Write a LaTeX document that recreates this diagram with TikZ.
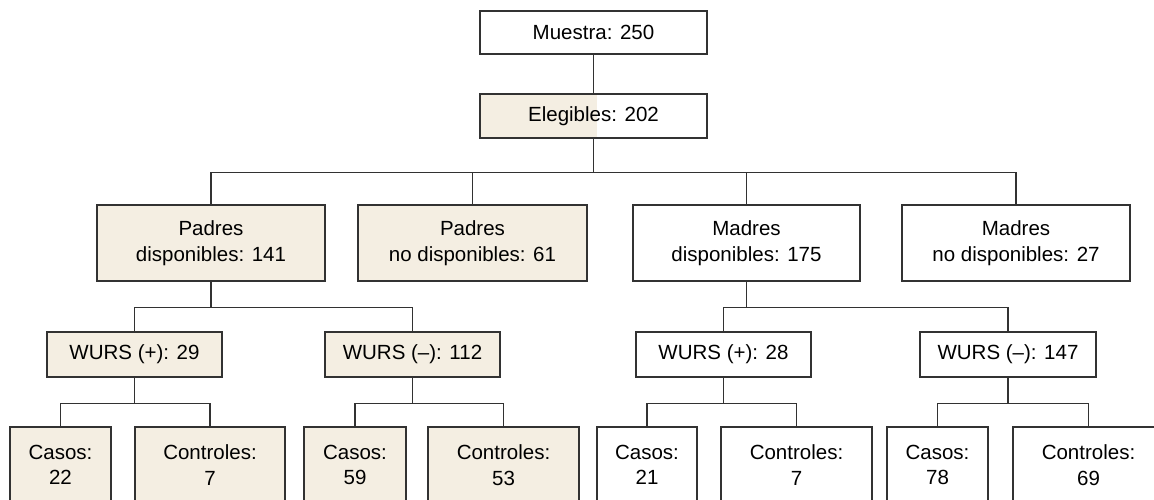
\documentclass[tikz,border=0pt]{standalone}
\usepackage{fontspec}
\setmainfont{Liberation Sans}
\definecolor{beige}{RGB}{244,238,226}
\definecolor{linec}{RGB}{50,50,50}
\begin{document}
\begin{tikzpicture}[x=1pt,y=-1pt,
  bx/.style={draw=linec,line width=1.3pt,rectangle,inner sep=0pt,align=center,
    font=\fontsize{20.5pt}{25.5pt}\selectfont,text=black},
  bf/.style={bx,fill=beige},
  conn/.style={draw=linec,line width=1.3pt}]
\clip (0,0) rectangle (1154,500);
\fill[white] (0,0) rectangle (1154,500);
% level 1
\node[bx,minimum width=227pt,minimum height=43pt] (mu) at (593.5,32.5) {Muestra: 250};
% level 2 (half filled)
\fill[beige] (480,94) rectangle (597,138);
\node[bx,minimum width=227pt,minimum height=44pt] (el) at (593.5,116) {Elegibles: 202};
% level 3
\node[bf,minimum width=228pt,minimum height=76pt] (pd) at (211,243) {Padres\\disponibles: 141};
\node[bf,minimum width=229pt,minimum height=76pt] (pn) at (472.5,243) {Padres\\no disponibles: 61};
\node[bx,minimum width=227pt,minimum height=76pt] (md) at (746.5,243) {Madres\\disponibles: 175};
\node[bx,minimum width=228pt,minimum height=76pt] (mn) at (1016,243) {Madres\\no disponibles: 27};
% level 4
\node[bf,minimum width=175pt,minimum height=45pt] (wp1) at (134.5,354.5) {WURS (+): 29};
\node[bf,minimum width=175pt,minimum height=45pt] (wm1) at (412.5,354.5) {WURS (--): 112};
\node[bx,minimum width=175pt,minimum height=45pt] (wp2) at (723.5,354.5) {WURS (+): 28};
\node[bx,minimum width=176pt,minimum height=45pt] (wm2) at (1008,354.5) {WURS (--): 147};
% level 5
\node[bf,minimum width=101pt,minimum height=76pt] (c1) at (60.5,465) {Casos:\\22};
\node[bf,minimum width=150pt,minimum height=76pt] (k1) at (210,465) {Controles:\\7};
\node[bf,minimum width=102pt,minimum height=76pt] (c2) at (355,465) {Casos:\\59};
\node[bf,minimum width=151pt,minimum height=76pt] (k2) at (503.5,465) {Controles:\\53};
\node[bx,minimum width=100pt,minimum height=76pt] (c3) at (647,465) {Casos:\\21};
\node[bx,minimum width=151pt,minimum height=76pt] (k3) at (796.5,465) {Controles:\\7};
\node[bx,minimum width=101pt,minimum height=76pt] (c4) at (937.5,465) {Casos:\\78};
\node[bx,minimum width=151pt,minimum height=76pt] (k4) at (1088.5,465) {Controles:\\69};
% connectors
\draw[conn] (mu.south) -- (el.north);
\foreach \c in {pd,pn,md,mn} \draw[conn] (el.south) -- ++(0,34) -| (\c.north);
\foreach \c in {wp1,wm1} \draw[conn] (pd.south) -- ++(0,26) -| (\c.north);
\foreach \c in {wp2,wm2} \draw[conn] (md.south) -- ++(0,26) -| (\c.north);
\foreach \c in {c1,k1} \draw[conn] (wp1.south) -- ++(0,26) -| (\c.north);
\foreach \c in {c2,k2} \draw[conn] (wm1.south) -- ++(0,26) -| (\c.north);
\foreach \c in {c3,k3} \draw[conn] (wp2.south) -- ++(0,26) -| (\c.north);
\foreach \c in {c4,k4} \draw[conn] (wm2.south) -- ++(0,26) -| (\c.north);
\end{tikzpicture}
\end{document}
